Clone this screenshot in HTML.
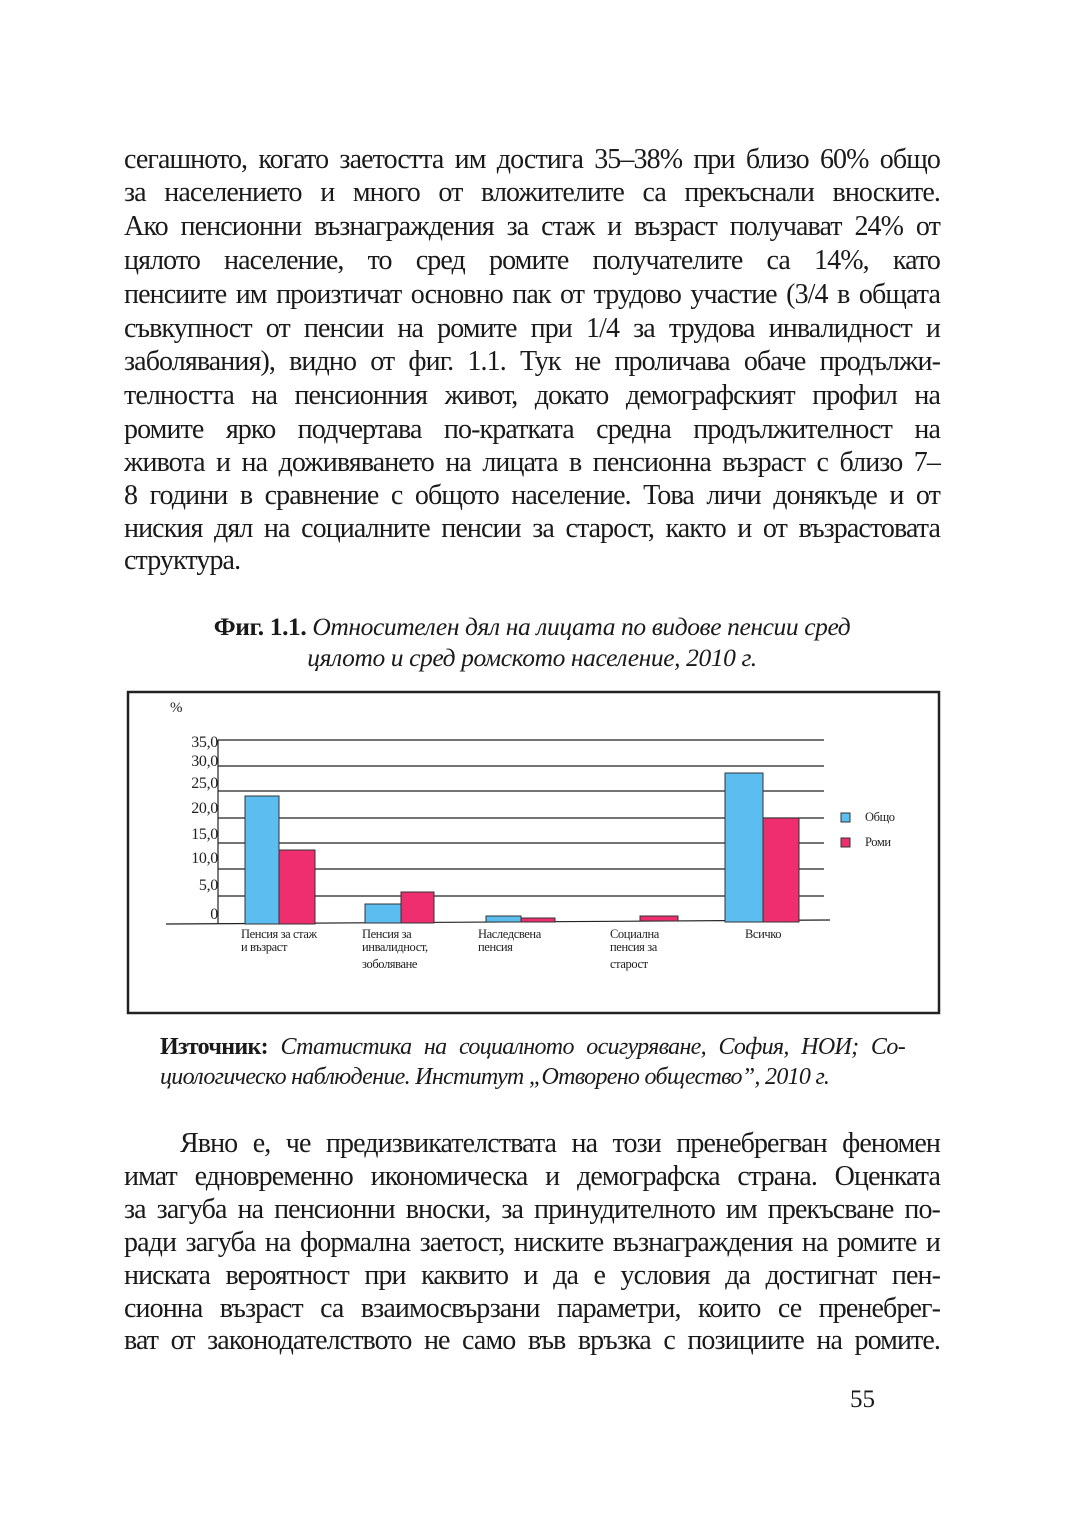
<!DOCTYPE html>
<html><head><meta charset="utf-8"><style>
body{margin:0;width:1080px;height:1530px;background:#fff;position:relative;font-family:"Liberation Serif","DejaVu Serif",serif;color:#1a1a1a}
.l{position:absolute;left:124px;width:816px;font-size:28px;line-height:30px;white-space:nowrap;text-align:justify;text-align-last:justify;letter-spacing:-0.9px}
.n{text-align-last:left}
.c{position:absolute;left:0;width:1064px;text-align:center;font-size:25.5px;font-style:italic;white-space:nowrap;letter-spacing:-0.4px}
.s{position:absolute;left:160px;width:745px;font-size:24px;font-style:italic;white-space:nowrap;text-align:justify;text-align-last:justify;letter-spacing:-0.7px}
</style></head><body>
<div class="l" style="top:145px">сегашното, когато заетостта им достига 35–38% при близо 60% общо</div>
<div class="l" style="top:178px">за населението и много от вложителите са прекъснали вноските.</div>
<div class="l" style="top:212px">Ако пенсионни възнаграждения за стаж и възраст получават 24% от</div>
<div class="l" style="top:246px">цялото население, то сред ромите получателите са 14%, като</div>
<div class="l" style="top:280px">пенсиите им произтичат основно пак от трудово участие (3/4 в общата</div>
<div class="l" style="top:314px">съвкупност от пенсии на ромите при 1/4 за трудова инвалидност и</div>
<div class="l" style="top:347px">заболявания), видно от фиг. 1.1. Тук не проличава обаче продължи-</div>
<div class="l" style="top:381px">телността на пенсионния живот, докато демографският профил на</div>
<div class="l" style="top:415px">ромите ярко подчертава по-кратката средна продължителност на</div>
<div class="l" style="top:448px">живота и на доживяването на лицата в пенсионна възраст с близо 7–</div>
<div class="l" style="top:481px">8 години в сравнение с общото население. Това личи донякъде и от</div>
<div class="l" style="top:514px">ниския дял на социалните пенсии за старост, както и от възрастовата</div>
<div class="l n" style="top:546px">структура.</div>

<div class="c" style="top:612px"><b style="font-style:normal">Фиг. 1.1.</b> Относителен дял на лицата по видове пенсии сред</div>
<div class="c" style="top:643px">цялото и сред ромското население, 2010 г.</div>

<svg style="position:absolute;left:0;top:0" width="1080" height="1530">
<rect x="128" y="692" width="811" height="321" fill="none" stroke="#222" stroke-width="2.5"/>
<g stroke="#222" stroke-width="1.2">
<line x1="218" y1="740" x2="824" y2="740"/><line x1="218" y1="766" x2="824" y2="766"/>
<line x1="218" y1="791" x2="824" y2="791"/><line x1="218" y1="818" x2="824" y2="818"/>
<line x1="218" y1="843" x2="824" y2="843"/><line x1="218" y1="869" x2="824" y2="869"/>
<line x1="218" y1="896" x2="824" y2="896"/>
<line x1="218" y1="740" x2="218" y2="924"/>
<line x1="166" y1="924" x2="830" y2="920"/>
</g>
<g stroke="#333" stroke-width="1">
<rect x="245" y="796" width="34" height="128" fill="#5bbdf0"/>
<rect x="279" y="850" width="36" height="74" fill="#ee2e6e"/>
<rect x="365" y="904" width="36" height="19" fill="#5bbdf0"/>
<rect x="401" y="892" width="33" height="31" fill="#ee2e6e"/>
<rect x="486" y="916" width="35" height="6" fill="#5bbdf0"/>
<rect x="521" y="918" width="34" height="4" fill="#ee2e6e"/>
<rect x="640" y="916" width="38" height="5" fill="#ee2e6e"/>
<rect x="725" y="773" width="38" height="149" fill="#5bbdf0"/>
<rect x="763" y="818" width="36" height="104" fill="#ee2e6e"/>
<rect x="841" y="813" width="9" height="9" fill="#5bbdf0"/>
<rect x="841" y="838" width="9" height="9" fill="#ee2e6e"/>
</g>
<g font-family="Liberation Serif,serif" font-size="16" fill="#222" text-anchor="end" letter-spacing="-0.3">
<text x="218" y="747">35,0</text><text x="218" y="766">30,0</text><text x="218" y="788">25,0</text>
<text x="218" y="813">20,0</text><text x="218" y="839">15,0</text><text x="218" y="863">10,0</text>
<text x="218" y="890">5,0</text><text x="218" y="919">0</text>
</g>
<text x="170" y="712" font-family="Liberation Serif,serif" font-size="15" fill="#222">%</text>
<g font-family="Liberation Serif,serif" font-size="12.5" fill="#222" letter-spacing="-0.4">
<text x="241" y="938">Пенсия за стаж</text><text x="241" y="951">и възраст</text>
<text x="362" y="938">Пенсия за</text><text x="362" y="951">инвалидност,</text><text x="362" y="968">зоболяване</text>
<text x="478" y="938">Наследсвена</text><text x="478" y="951">пенсия</text>
<text x="610" y="938">Социална</text><text x="610" y="951">пенсия за</text><text x="610" y="968">старост</text>
<text x="745" y="938">Всичко</text>
<text x="865" y="821">Общо</text><text x="865" y="846">Роми</text>
</g>
</svg>

<div class="s" style="top:1034px"><b style="font-style:normal">Източник:</b> Статистика на социалното осигуряване, София, НОИ; Со-</div>
<div class="s" style="top:1064px;text-align-last:left">циологическо наблюдение. Институт „Отворено общество”, 2010 г.</div>

<div class="l" style="top:1129px;left:180px;width:760px">Явно е, че предизвикателствата на този пренебрегван феномен</div>
<div class="l" style="top:1162px">имат едновременно икономическа и демографска страна. Оценката</div>
<div class="l" style="top:1195px">за загуба на пенсионни вноски, за принудителното им прекъсване по-</div>
<div class="l" style="top:1228px">ради загуба на формална заетост, ниските възнаграждения на ромите и</div>
<div class="l" style="top:1261px">ниската вероятност при каквито и да е условия да достигнат пен-</div>
<div class="l" style="top:1294px">сионна възраст са взаимосвързани параметри, които се пренебрег-</div>
<div class="l" style="top:1326px">ват от законодателството не само във връзка с позициите на ромите.</div>
<div style="position:absolute;left:850px;top:1386px;font-size:25px">55</div>
</body></html>
